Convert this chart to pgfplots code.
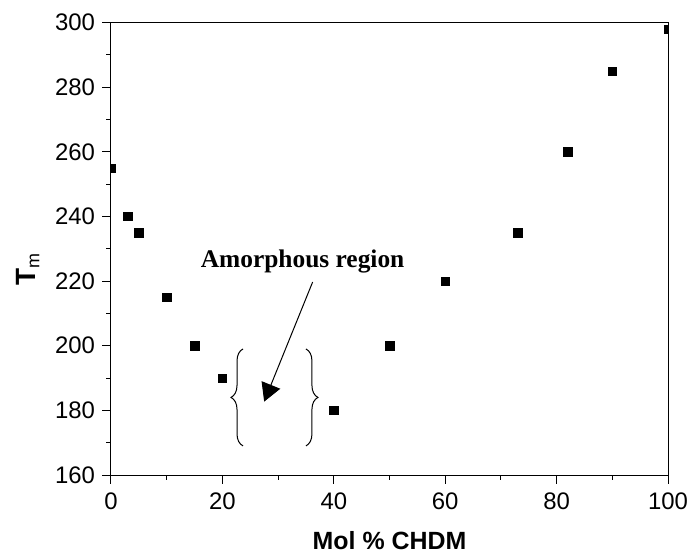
\documentclass[border=0pt]{standalone}
\usepackage{fontspec}
\setmainfont{Liberation Sans}
\newfontfamily\timesfont{Liberation Serif}
\usepackage{pgfplots}
\pgfplotsset{compat=1.18}
\usetikzlibrary{arrows.meta,decorations.pathreplacing}
\begin{document}
\begin{tikzpicture}
\begin{axis}[
  at={(0,0)}, anchor=south west,
  width=557bp, height=452.5bp, scale only axis,
  xmin=0, xmax=100, ymin=160, ymax=300,
  xtick={0,20,...,100}, ytick={160,180,...,300},
  minor x tick num=1, minor y tick num=1,
  tick align=outside, tick pos=left,
  major tick length=8.5bp, minor tick length=4.7bp,
  axis line style={line width=1bp},
  every tick/.style={line width=1bp, black},
  /pgf/number format/assume math mode=true,
  tick label style={font=\fontsize{24}{28}\selectfont},
  xticklabel style={yshift=-6bp},
  yticklabel style={xshift=-4bp},
  xlabel={\bfseries Mol \% CHDM},
  xlabel style={at={(axis description cs:0.5,0)}, anchor=center, yshift=-66bp, font=\fontsize{25}{30}\selectfont},
  ylabel={\bfseries T\textsubscript{\normalfont\fontsize{18}{20}\selectfont m}},
  ylabel style={at={(axis description cs:-0.149,0.455)}, anchor=center, font=\fontsize{28}{32}\selectfont},
  clip marker paths=true,
]
\addplot[only marks, mark=square*, mark size=4.2bp, black] coordinates {
  (0,255) (3,240) (5,235) (10,215) (15,200) (20,190) (40,180)
  (50,200) (60,220) (73,235) (82,260) (90,285) (100,298)
};
\node[font=\timesfont\bfseries\fontsize{25.5}{30}\selectfont] at (axis cs:34.4,226) {Amorphous region};
\draw[line width=1bp, -{Triangle[length=18bp,width=20bp]}] (axis cs:36.2,219.7) -- (axis cs:27.5,182.7);
\draw[line width=1bp, decorate, decoration={brace, amplitude=12bp}] (axis cs:23.7,169) -- (axis cs:23.7,199);
\draw[line width=1bp, decorate, decoration={brace, amplitude=12bp}] (axis cs:35,199) -- (axis cs:35,169);
\end{axis}
\pgfresetboundingbox
\useasboundingbox (-111bp,-81bp) rectangle (580bp,475bp);
\end{tikzpicture}
\end{document}
